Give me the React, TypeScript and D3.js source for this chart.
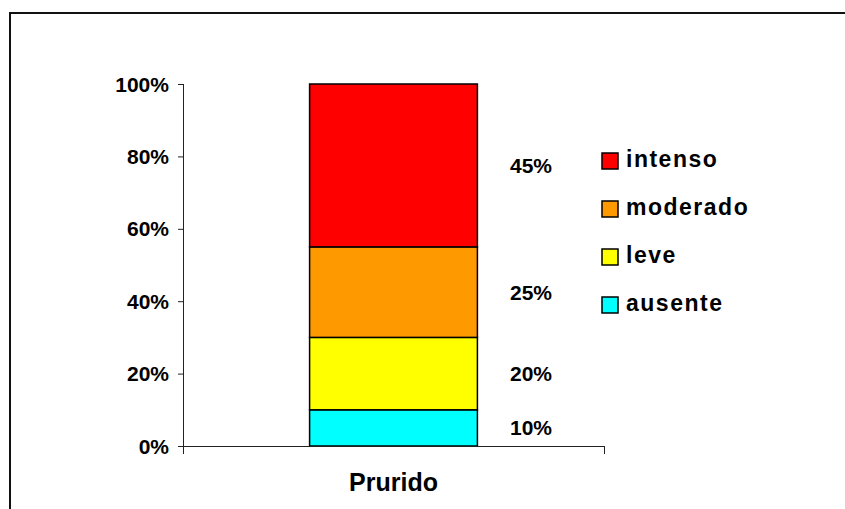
import React from "react";
import * as d3 from "d3";

// Stacked share of itch intensity (one category)
const categories = ["Prurido"];
const seriesNames = ["ausente", "leve", "moderado", "intenso"];
const seriesValues = [10, 20, 25, 45];
const seriesColors = ["#00FFFF", "#FFFF00", "#FF9900", "#FF0000"];
const yTicks = [0, 20, 40, 60, 80, 100];

const W = 845;
const H = 509;
const FONT = "'Liberation Sans', Arial, Helvetica, sans-serif";

export default function App() {
  const x = d3.scaleBand<string>().domain(categories).range([183, 604]).padding(0.43);
  const y = d3.scaleLinear().domain([0, 100]).range([446, 84]);

  const stacked = d3.stack<any>().keys(seriesNames)([
    Object.fromEntries(seriesNames.map((k, i) => [k, seriesValues[i]])),
  ]);

  const bx = x(categories[0]) ?? 0;
  const bw = x.bandwidth();
  const legendOrder = [...seriesNames.keys()].reverse();

  return (
    <svg
      width={W}
      height={H}
      style={{ position: "absolute", left: 0, top: 0, background: "#fff" }}
      fontFamily={FONT}
      fontWeight="bold"
    >
      {/* outer frame */}
      <rect x={10} y={13} width={W + 20} height={H + 20} fill="none" stroke="#111" strokeWidth={2} />

      {/* stacked bar */}
      {stacked.map((s, i) => {
        const d = s[0];
        return (
          <rect
            key={seriesNames[i]}
            x={bx}
            y={y(d[1])}
            width={bw}
            height={y(d[0]) - y(d[1])}
            fill={seriesColors[i]}
            stroke="#000"
            strokeWidth={1.5}
          />
        );
      })}

      {/* value axis */}
      <line x1={183.5} x2={183.5} y1={y(100)} y2={454} stroke="#222" strokeWidth={1} />
      {yTicks.map((t) => (
        <g key={t}>
          <line x1={178} x2={183.5} y1={y(t) + 0.5} y2={y(t) + 0.5} stroke="#222" strokeWidth={1} />
          <text x={169} y={y(t)} dy="0.36em" textAnchor="end" fontSize={21} fill="#000">
            {t}%
          </text>
        </g>
      ))}

      {/* category axis */}
      <line x1={183} x2={604.5} y1={446.5} y2={446.5} stroke="#222" strokeWidth={1} />
      <line x1={604.5} x2={604.5} y1={446} y2={454} stroke="#222" strokeWidth={1} />
      <text x={bx + bw / 2} y={491} textAnchor="middle" fontSize={25} fill="#000">
        {categories[0]}
      </text>

      {/* data labels */}
      {stacked.map((s, i) => {
        const d = s[0];
        return (
          <text
            key={"lbl" + i}
            x={531}
            y={y((d[0] + d[1]) / 2)}
            dy="0.36em"
            textAnchor="middle"
            fontSize={21}
            fill="#000"
          >
            {seriesValues[i]}%
          </text>
        );
      })}

      {/* legend */}
      {legendOrder.map((si, row) => {
        const base = 167 + row * 48;
        return (
          <g key={"lg" + si}>
            <rect x={602} y={base - 14} width={16} height={16} fill={seriesColors[si]} stroke="#000" strokeWidth={1.5} />
            <text x={626} y={base} fontSize={23} letterSpacing={1.5} fill="#000">
              {seriesNames[si]}
            </text>
          </g>
        );
      })}
    </svg>
  );
}
